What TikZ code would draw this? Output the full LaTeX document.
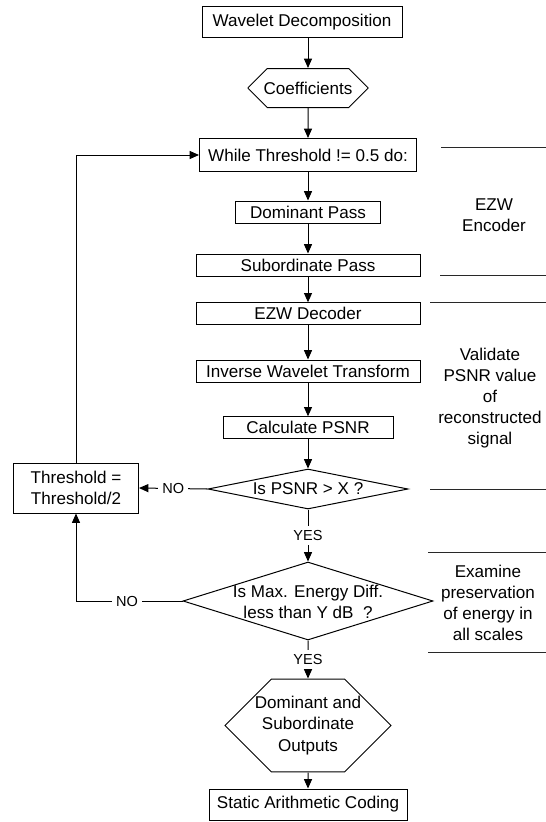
\documentclass[tikz,border=0pt]{standalone}
\usepackage{fontspec}
\setmainfont{Liberation Sans}
\usetikzlibrary{arrows.meta,shapes.geometric,shapes.misc}

\tikzset{every picture/.style={line width=0.75pt}}
\tikzset{
	stepbox/.style={draw, fill=white, rectangle, inner sep=0pt, align=center,
		font=\fontsize{12.8}{15.9}\selectfont},
	octobox/.style={stepbox, chamfered rectangle},
	decision/.style={draw, fill=white, diamond, inner sep=0pt},
	body/.style={align=center, font=\fontsize{12.8}{15.9}\selectfont, inner sep=0pt},
	yesno/.style={fill=white, inner sep=3pt, font=\fontsize{10.9}{13}\selectfont},
	flow/.style={-{Triangle[length=7pt,width=6pt]}},
	sepline/.style={draw={rgb, 255:red, 40; green, 40; blue, 40}}
}

\begin{document}
\begin{tikzpicture}[x=0.75pt,y=0.75pt,yscale=-1,xscale=1]
	\useasboundingbox (0,0) rectangle (546,822);

	%Shape: Rectangle [id:wd]
	\node[stepbox, minimum width=150pt, minimum height=23.25pt] (wd) at (302,22) {Wavelet Decomposition};
	%Shape: Octagon [id:co]
	\node[octobox, minimum width=90pt, minimum height=29.25pt, chamfered rectangle xsep=21pt, chamfered rectangle ysep=9.75pt] (co) at (308,88) {Coefficients};
	%Shape: Rectangle [id:wh]
	\node[stepbox, minimum width=162.75pt, minimum height=24.75pt] (wh) at (308,155) {While Threshold != 0.5 do:};
	%Shape: Rectangle [id:dp]
	\node[stepbox, minimum width=108.75pt, minimum height=16.5pt] (dp) at (308,212) {Dominant Pass};
	%Shape: Rectangle [id:sp]
	\node[stepbox, minimum width=168pt, minimum height=16.5pt] (sp) at (308,265) {Subordinate Pass};
	%Shape: Rectangle [id:ed]
	\node[stepbox, minimum width=168pt, minimum height=16pt] (ed) at (308,313.5) {EZW Decoder};
	%Shape: Rectangle [id:iw]
	\node[stepbox, minimum width=168pt, minimum height=16.5pt] (iw) at (308,371) {Inverse Wavelet Transform};
	%Shape: Rectangle [id:cp]
	\node[stepbox, minimum width=127.5pt, minimum height=16pt] (cp) at (308,427.5) {Calculate PSNR};
	%Shape: Diamond [id:d1]
	\node[decision, minimum width=150pt, minimum height=30pt] (d1) at (308,489) {};
	%Shape: Rectangle [id:th]
	\node[stepbox, minimum width=93.75pt, minimum height=37.5pt] (th) at (76,488) {Threshold =\\Threshold/2};
	%Shape: Diamond [id:d2]
	\node[decision, minimum width=187.5pt, minimum height=58.5pt] (d2) at (308,601) {};
	%Shape: Octagon [id:out]
	\node[octobox, minimum width=124.5pt, minimum height=50.25pt, chamfered rectangle xsep=24pt, chamfered rectangle ysep=13pt] (out) at (308,725.5) {Dominant and\\Subordinate\\Outputs};
	%Shape: Rectangle [id:sac]
	\node[stepbox, minimum width=148.5pt, minimum height=23.25pt] (sac) at (308,804.5) {Static Arithmetic Coding};

	% Text Node
	\node[body] (d1t) at (308,489) {Is PSNR > X ?};
	% Text Node
	\node[body] (d2t) at (308,602) {Is Max. Energy Diff.\\less than Y dB\ \ ?};

	%Straight Lines
	\draw[flow] (wd.south -| co.north) -- (co.north);
	\draw[flow] (co) -- (wh);
	\draw[flow] (wh) -- (dp);
	\draw[flow] (dp) -- (sp);
	\draw[flow] (sp) -- (ed);
	\draw[flow] (ed) -- (iw);
	\draw[flow] (iw) -- (cp);
	\draw[flow] (cp) -- (d1);
	\draw[flow] (d1) -- node[yesno] (y1) {YES} (d2);
	\draw[flow] (d2) -- node[yesno] (y2) {YES} (out);
	\draw[flow] (out) -- (sac);
	\draw[flow] (d1.west) -- node[yesno] (n1) {NO} (th.east);
	\draw[flow] (d2.west) -| node[yesno, pos=0.26] (n2) {NO} (th.south);
	\draw[flow] (th.north) |- (wh.west);

	%Side notes
	\draw[sepline] (441,147) -- (546,147);
	% Text Node
	\node[body] (enc) at (494,215) {EZW\\Encoder};
	\draw[sepline] (440,275) -- (546,275);
	\draw[sepline] (430,302) -- (546,302);
	% Text Node
	\node[body] (val) at (490,398) {Validate\\PSNR value\\of\\reconstructed\\signal};
	\draw[sepline] (430,489) -- (546,489);
	\draw[sepline] (428,552) -- (546,552);
	% Text Node
	\node[body] (exa) at (488,603) {Examine\\preservation\\of energy in\\all scales};
	\draw[sepline] (428,652) -- (546,652);

\end{tikzpicture}
\end{document}
